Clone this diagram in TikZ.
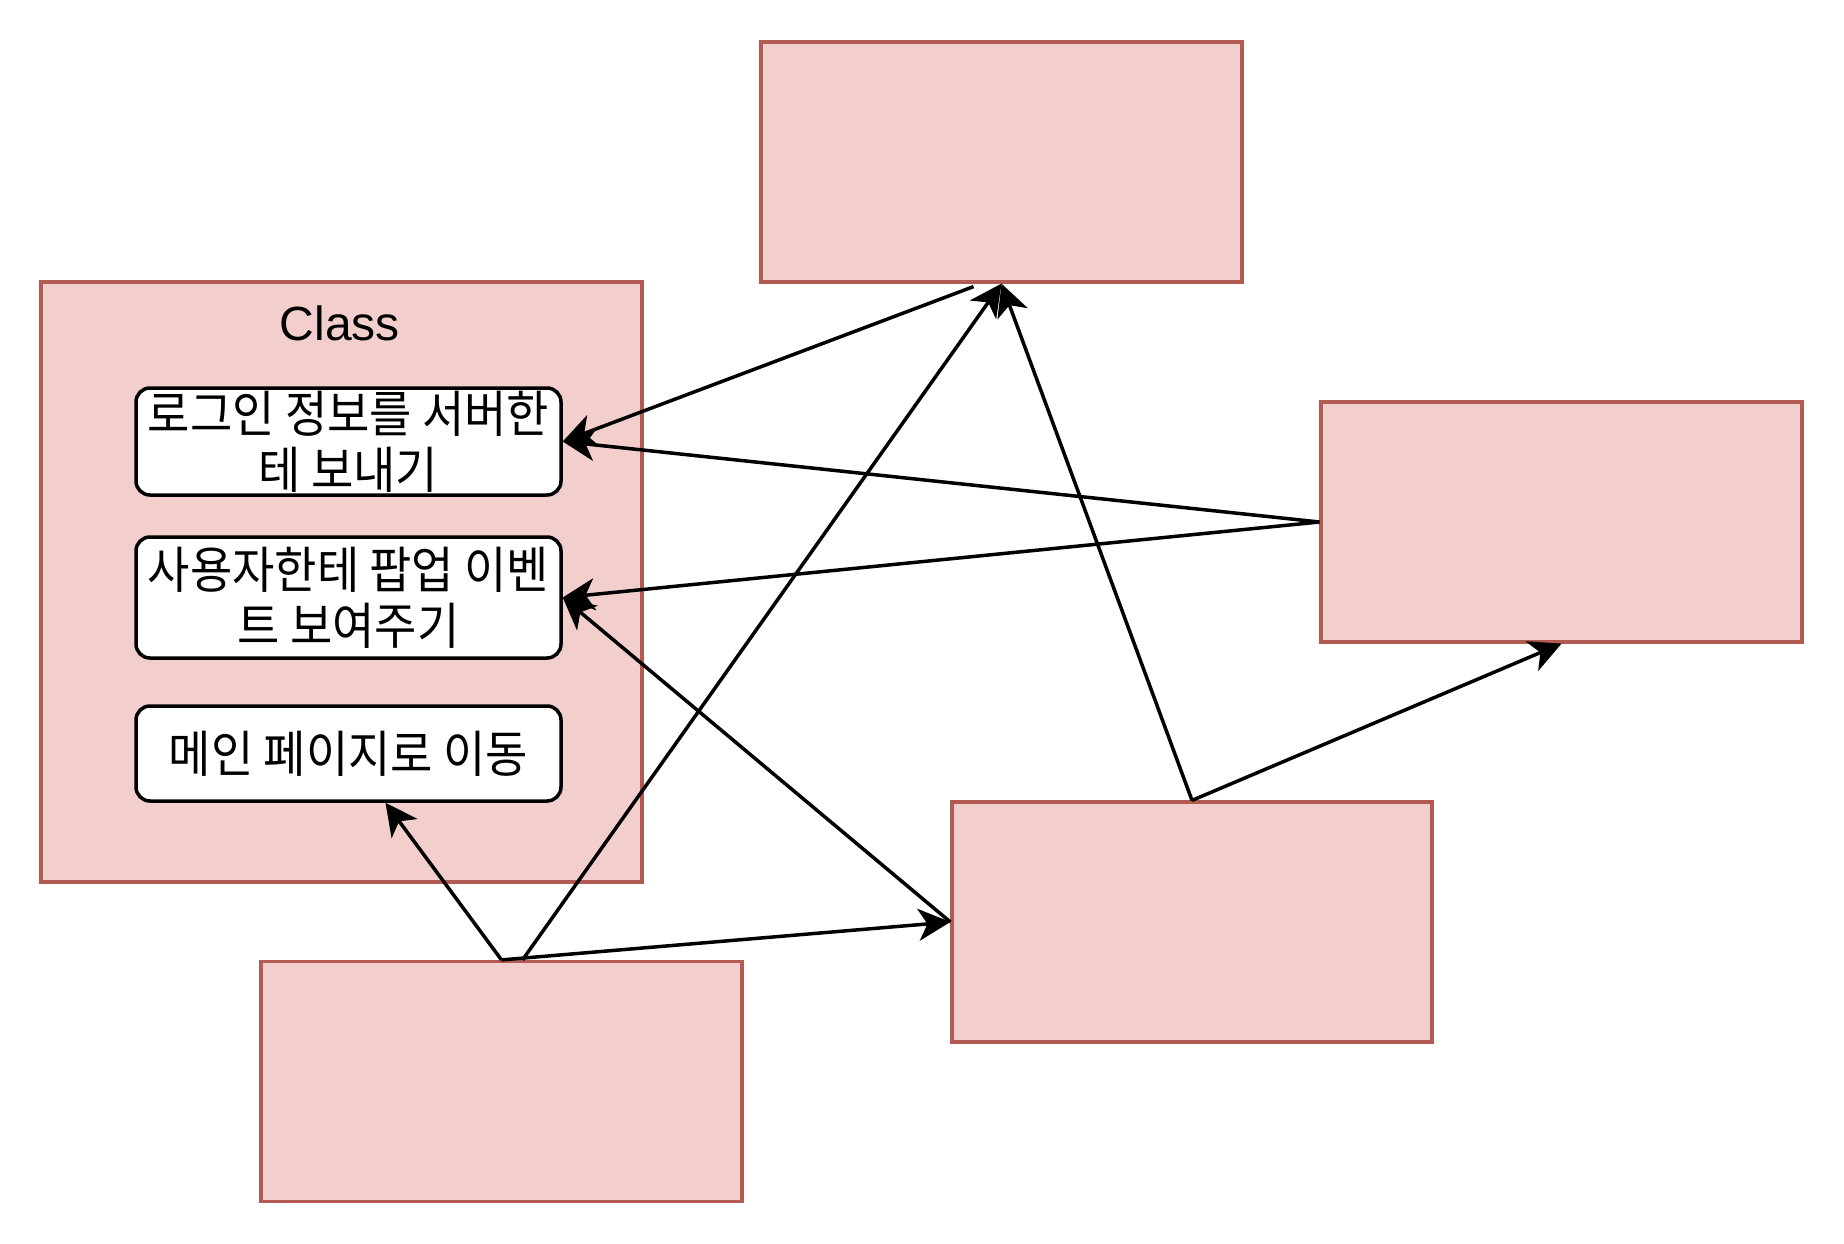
\documentclass[tikz,border=0pt]{standalone}
\usepackage{fontspec}
\setmainfont{Liberation Sans}
\newfontfamily\kr[FakeStretch=0.92]{Noto Sans CJK KR}
\usetikzlibrary{arrows.meta}
\definecolor{boxfill}{HTML}{F2CFCD}
\definecolor{boxline}{HTML}{B35A53}

\begin{document}
\begin{tikzpicture}[x=1pt,y=-1pt,->,>={Stealth[length=32pt,width=32pt,inset=9pt]},line width=3.5pt,
    red node/.style={rectangle,draw=boxline,fill=boxfill,line width=3.2pt,minimum width=481pt,minimum height=240pt,inner sep=0pt},
    step node/.style={rectangle,draw=black,fill=white,rounded corners=14pt,minimum width=425pt,inner sep=0pt,align=center,font=\kr\fontsize{50}{56}\selectfont}]
            \useasboundingbox (0,0) rectangle (1844,1244);

            \node[red node, minimum width=601pt, minimum height=600pt] (class) at (341.5,582) {};
            \node[font=\fontsize{48}{56}\selectfont] (title) at (340,323) {Class};
            \node[step node, minimum height=107pt] (s1) at (348.5,441.5) {로그인 정보를 서버한\\테 보내기};
            \node[step node, minimum height=121pt] (s2) at (348.5,597.5) {사용자한테 팝업 이벤\\트 보여주기};
            \node[step node, minimum height=95pt] (s3) at (348.5,753.5) {메인 페이지로 이동};

            \node[red node] (up) at (1001.5,162) {};
            \node[red node] (side) at (1561.5,522) {};
            \node[red node, minimum width=480pt] (mid) at (1192,922) {};
            \node[red node] (low) at (501.5,1081.5) {};

            \path
                ([xshift=-28pt,yshift=-3pt]up.south) edge (s1.east)
                (side.west) edge (s1.east)
                (side.west) edge (s2.east)
                (mid.west) edge (s2.east)

                (low.north) edge ([xshift=37pt]s3.south)
                ([xshift=21pt]low.north) edge (up.south)
                (low.north) edge (mid.west)

                (mid.north) edge (up.south)
                (mid.north) edge (side.south)
                ;
        \end{tikzpicture}
\end{document}
